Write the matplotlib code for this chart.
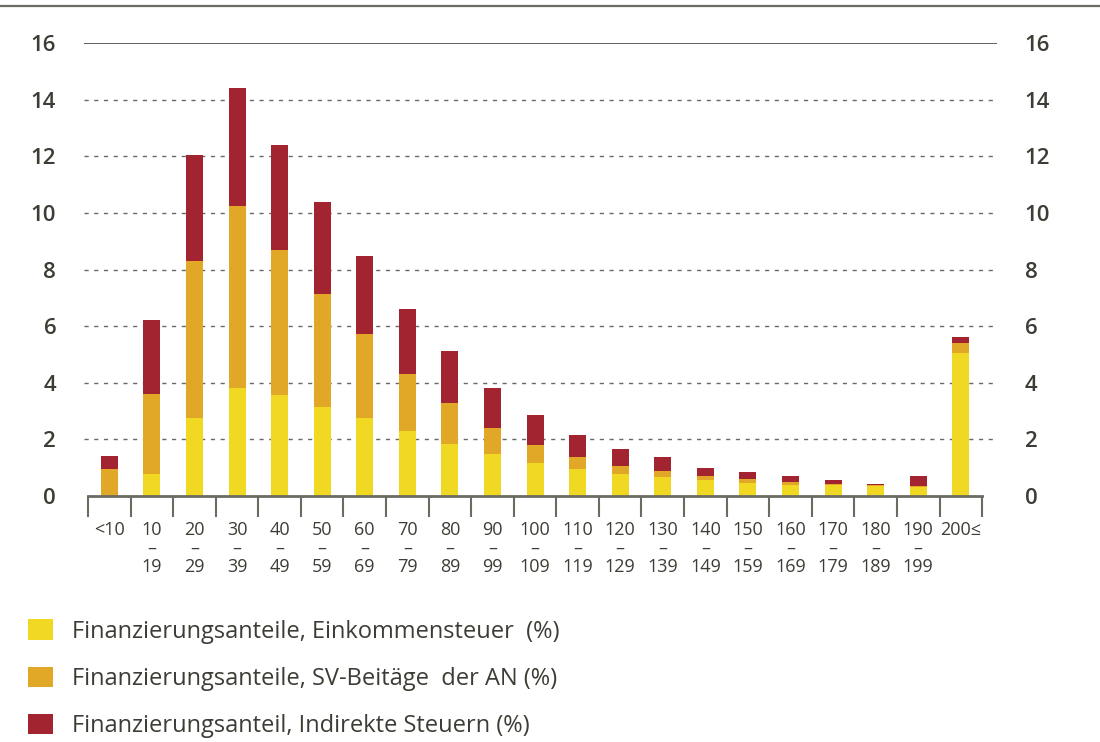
import matplotlib
matplotlib.use("Agg")
import matplotlib.pyplot as plt
from matplotlib.lines import Line2D
from matplotlib.patches import Patch
import numpy as np

categories = ["<10", "10\n–\n19", "20\n–\n29", "30\n–\n39", "40\n–\n49", "50\n–\n59",
              "60\n–\n69", "70\n–\n79", "80\n–\n89", "90\n–\n99", "100\n–\n109",
              "110\n–\n119", "120\n–\n129", "130\n–\n139", "140\n–\n149", "150\n–\n159",
              "160\n–\n169", "170\n–\n179", "180\n–\n189", "190\n–\n199", "200≤"]

einkommensteuer = [0.0, 0.78, 2.76, 3.82, 3.57, 3.15, 2.76, 2.30, 1.84, 1.48, 1.17,
                   0.95, 0.78, 0.67, 0.57, 0.47, 0.40, 0.38, 0.34, 0.32, 5.06]
sv_beitraege = [0.95, 2.82, 5.54, 6.43, 5.12, 3.99, 2.96, 2.01, 1.45, 0.92, 0.63,
                0.42, 0.29, 0.20, 0.14, 0.13, 0.09, 0.04, 0.04, 0.02, 0.33]
indirekte = [0.46, 2.62, 3.75, 4.17, 3.71, 3.25, 2.76, 2.30, 1.83, 1.42, 1.06,
             0.77, 0.60, 0.50, 0.29, 0.25, 0.21, 0.15, 0.05, 0.36, 0.23]

labels = ["Finanzierungsanteile, Einkommensteuer  (%)",
          "Finanzierungsanteile, SV-Beitäge  der AN (%)",
          "Finanzierungsanteil, Indirekte Steuern (%)"]
colors = ["#F0D823", "#E0A826", "#A32431"]
yticks = [0, 2, 4, 6, 8, 10, 12, 14, 16]

plt.rcParams['font.family'] = ['Open Sans', 'DejaVu Sans']
txt = "#3d3d35"

W, H = 1100, 742
fig = plt.figure(figsize=(W / 100, H / 100), dpi=100)

# axes: x from 84 to 997 px, y from 43 to 496 px
ax = fig.add_axes([84 / W, 1 - 496 / H, (997 - 84) / W, (496 - 43) / H])
x = np.arange(len(categories))
b1 = np.array(einkommensteuer)
b2 = np.array(sv_beitraege)
b3 = np.array(indirekte)
bw = 0.4
ax.bar(x, b1, bw, color=colors[0], label=labels[0], zorder=3)
ax.bar(x, b2, bw, bottom=b1, color=colors[1], label=labels[1], zorder=3)
ax.bar(x, b3, bw, bottom=b1 + b2, color=colors[2], label=labels[2], zorder=3)

ax.set_ylim(0, 16)
ax.set_xlim(-0.594, 20.85)

for v in yticks[1:-1]:
    ax.axhline(v, color="#6a6a62", lw=1.0, ls=(0, (3, 4)), zorder=1)
ax.axhline(16, color="#55554d", lw=1.3, zorder=1)

for s in ["top", "left", "right"]:
    ax.spines[s].set_visible(False)
ax.spines["bottom"].set_bounds(-0.5, 20.5)
ax.spines["bottom"].set_color("#6b6b62")
ax.spines["bottom"].set_linewidth(2)
ax.spines["bottom"].set_zorder(4)

ax.set_yticks(yticks)
ax.set_yticklabels([str(v) for v in yticks])
ax.tick_params(axis="y", length=0, pad=20, labelsize=16, labelcolor=txt,
               labelleft=True, labelright=True)
for lbl in ax.get_yticklabels():
    lbl.set_fontweight("semibold")

ax.set_xticks(np.arange(-0.5, 21, 1.0))
ax.set_xticklabels([])
ax.tick_params(axis="x", which="major", length=15, width=1.5, color="#6b6b62", direction="out")
ax.set_xticks(x, minor=True)
ax.set_xticklabels(categories, minor=True, fontsize=13, color=txt, linespacing=1.05)
ax.tick_params(axis="x", which="minor", length=0, pad=18)

# top border line
fig.add_artist(Line2D([0, 1], [1 - 6 / H, 1 - 6 / H], color="#6b6b62", lw=1.6,
                      transform=fig.transFigure))

handles = [Patch(facecolor=c) for c in colors]
fig.legend(handles, labels, loc="upper left", bbox_to_anchor=(19 / W, 1 - 610 / H),
           frameon=False, fontsize=17, handlelength=1.05, handleheight=0.95,
           labelspacing=0.97, handletextpad=0.8, labelcolor=txt, borderaxespad=0)

fig.savefig("out.png", dpi=100)
